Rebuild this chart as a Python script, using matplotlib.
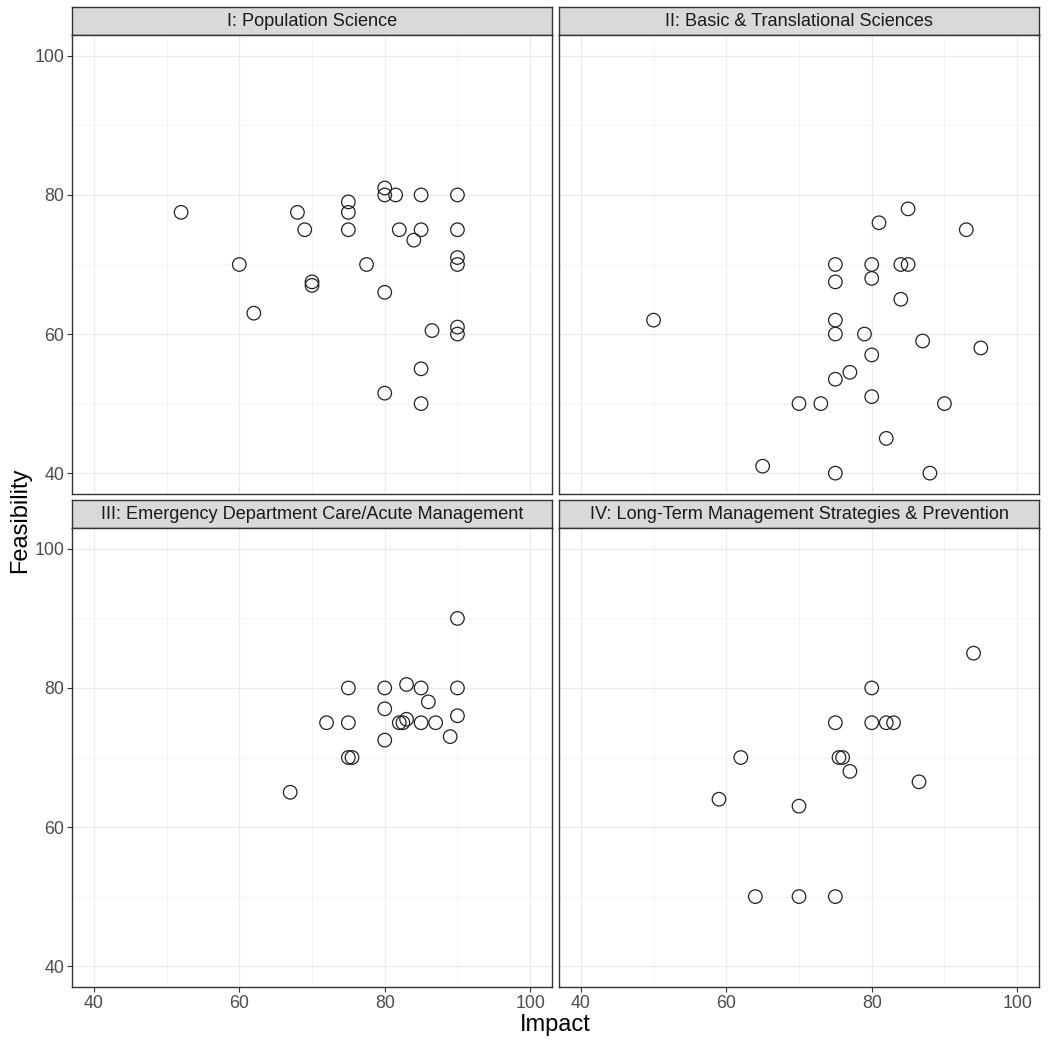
import matplotlib
matplotlib.use("Agg")
import matplotlib.pyplot as plt
from matplotlib.ticker import MultipleLocator

plt.rcParams['font.family'] = ['Liberation Sans', 'DejaVu Sans']

# ==> DATA (impact, feasibility) per domain
titles = ["I: Population Science",
          "II: Basic & Translational Sciences",
          "III: Emergency Department Care/Acute Management",
          "IV: Long-Term Management Strategies & Prevention"]

impact_1 = [52, 68, 69, 75, 75, 75, 60, 70, 70, 62, 77.5, 80, 80, 81.5, 85, 90,
            82, 85, 84, 90, 90, 90, 80, 86.5, 90, 90, 85, 80, 85]
feas_1 = [77.5, 77.5, 75, 79, 77.5, 75, 70, 67.5, 67, 63, 70, 81, 80, 80, 80, 80,
          75, 75, 73.5, 75, 71, 70, 66, 60.5, 61, 60, 55, 51.5, 50]

impact_2 = [85, 81, 93, 75, 80, 84, 85, 75, 80, 84, 50, 75, 75, 79, 87, 95, 80,
            77, 75, 70, 73, 80, 90, 82, 65, 75, 88]
feas_2 = [78, 76, 75, 70, 70, 70, 70, 67.5, 68, 65, 62, 62, 60, 60, 59, 58, 57,
          54.5, 53.5, 50, 50, 51, 50, 45, 41, 40, 40]

impact_3 = [90, 75, 80, 83, 85, 90, 86, 80, 72, 75, 82, 82.5, 83, 85, 87, 90,
            89, 80, 75, 75.5, 67]
feas_3 = [90, 80, 80, 80.5, 80, 80, 78, 77, 75, 75, 75, 75, 75.5, 75, 75, 76,
          73, 72.5, 70, 70, 65]

impact_4 = [94, 80, 75, 80, 82, 83, 62, 75.5, 76, 77, 86.5, 59, 70, 64, 70, 75]
feas_4 = [85, 80, 75, 75, 75, 75, 70, 70, 70, 68, 66.5, 64, 63, 50, 50, 50]

impacts = [impact_1, impact_2, impact_3, impact_4]
feasibilities = [feas_1, feas_2, feas_3, feas_4]

# ==> LAYOUT (pixels)
W, H = 1050, 1044
fig = plt.figure(figsize=(W / 100, H / 100), dpi=100)

col_left = [72, 559]
panel_w = 480
row_strip_top = [7, 500]
strip_h = 28
panel_h = 459

border = '#333333'

def fig_rect(x, y, w, h):
    return [x / W, (H - y - h) / H, w / W, h / H]

for i in range(4):
    r, c = divmod(i, 2)
    x0 = col_left[c]
    sy = row_strip_top[r]
    py = sy + strip_h

    # strip
    sax = fig.add_axes(fig_rect(x0, sy, panel_w, strip_h))
    sax.set_facecolor('#d9d9d9')
    sax.set_xticks([])
    sax.set_yticks([])
    for sp in sax.spines.values():
        sp.set_color(border)
        sp.set_linewidth(1.0)
    sax.text(0.5, 0.47, titles[i], ha='center', va='center', fontsize=13.1,
             color='#1a1a1a', transform=sax.transAxes)

    # panel
    ax = fig.add_axes(fig_rect(x0, py, panel_w, panel_h))
    ax.set_xlim(37, 103)
    ax.set_ylim(37, 103)
    ax.xaxis.set_major_locator(MultipleLocator(20))
    ax.yaxis.set_major_locator(MultipleLocator(20))
    ax.xaxis.set_minor_locator(MultipleLocator(10))
    ax.yaxis.set_minor_locator(MultipleLocator(10))
    ax.grid(which='major', color='#ebebeb', linewidth=0.9)
    ax.grid(which='minor', color='#f2f2f2', linewidth=0.6)
    ax.set_axisbelow(True)
    for sp in ax.spines.values():
        sp.set_color(border)
        sp.set_linewidth(1.0)
    ax.tick_params(which='minor', length=0)
    ax.tick_params(which='major', length=3.5, width=0.8, color=border,
                   labelsize=12.8, labelcolor='#4d4d4d', pad=2)
    if c == 1:
        ax.tick_params(axis='y', which='major', length=0, labelleft=False)
    if r == 0:
        ax.tick_params(axis='x', which='major', length=0, labelbottom=False)

    ax.scatter(impacts[i], feasibilities[i], s=95, facecolors='none',
               edgecolors='#222222', linewidths=0.9, zorder=3)

fig.text(555 / W, 1 - 1025 / H, "Impact", ha='center', va='center', fontsize=17)
fig.text(20 / W, 1 - 520 / H, "Feasibility", ha='center', va='center',
         fontsize=17, rotation=90)

fig.savefig("out.png", dpi=100, facecolor='white')
